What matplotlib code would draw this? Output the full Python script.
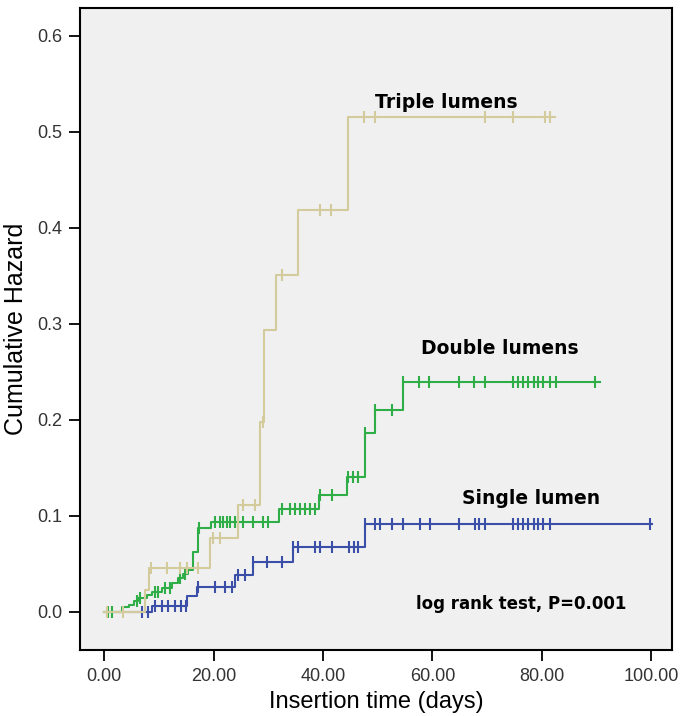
import matplotlib.pyplot as plt
import numpy as np

# event times (days) and cumulative hazard after each event
single_t = [8.7, 15.1, 17.0, 24.0, 27.3, 34.6, 47.7]
single_h = [0.006, 0.017, 0.026, 0.039, 0.052, 0.068, 0.092]
single_end = 100.2
single_cens = [7.0, 8.0, 9.3, 10.5, 11.7, 12.9, 14.0, 15.0, 17.2, 20.3, 22.1, 23.3,
               24.5, 25.7, 27.3, 29.7, 32.5, 34.6, 35.5, 38.6, 39.5, 41.6, 44.7,
               45.6, 46.5, 47.7, 49.5, 50.5, 52.6, 54.7, 57.8, 59.6, 64.8, 67.8,
               68.6, 69.7, 74.8, 75.7, 76.6, 77.5, 78.5, 79.4, 80.3, 81.5, 99.8]

double_t = [3.2, 4.5, 5.5, 6.2, 7.8, 8.7, 10.5, 12.4, 13.5, 14.5, 15.4, 16.3, 17.2,
            19.6, 32.0, 39.3, 44.4, 47.6, 49.5, 54.6]
double_h = [0.005, 0.007, 0.011, 0.015, 0.018, 0.021, 0.025, 0.030, 0.035, 0.040,
            0.044, 0.062, 0.087, 0.094, 0.107, 0.122, 0.141, 0.186, 0.210, 0.240]
double_end = 90.7
double_cens = [0.8, 1.5, 6.0, 6.6, 9.3, 9.9, 11.2, 12.0, 13.9, 14.8, 17.4,
               20.3, 21.2, 21.8, 22.4, 23.0, 23.9, 24.5, 25.4, 27.3, 29.1, 30.0,
               32.5, 34.0, 34.9, 35.8, 36.7, 37.7, 38.6, 39.5, 41.6, 44.6, 45.5,
               46.4, 47.6, 49.5, 52.6, 54.6, 57.6, 59.4, 64.8, 67.6, 69.7, 74.8,
               75.7, 76.6, 77.5, 78.5, 79.4, 80.3, 81.5, 82.6, 89.7]

triple_t = [7.5, 8.2, 19.4, 24.5, 28.5, 29.3, 31.4, 35.5, 44.5]
triple_h = [0.023, 0.046, 0.077, 0.111, 0.198, 0.294, 0.351, 0.419, 0.515]
triple_end = 82.4
triple_cens = [0.5, 3.5, 8.6, 11.5, 13.9, 15.1, 17.2, 19.9, 21.2, 25.4, 27.6,
               29.0, 32.5, 39.5, 41.5, 47.5, 49.5, 69.7, 74.7, 80.6, 81.5]

groups = [
    ("Single lumen", single_t, single_h, single_end, single_cens, "#3b4fa8"),
    ("Double lumens", double_t, double_h, double_end, double_cens, "#2fae48"),
    ("Triple lumens", triple_t, triple_h, triple_end, triple_cens, "#d3cb9c"),
]

plt.rcParams['font.family'] = ['Liberation Sans', 'DejaVu Sans']
fig = plt.figure(figsize=(6.85, 7.16), dpi=100)
ax = fig.add_axes([80 / 685, 1 - 650 / 716, 592 / 685, 642 / 716])
ax.set_facecolor("#f0f0f0")

for name, t, h, end, cens, col in groups:
    xs = np.r_[0.0, t, end]
    ys = np.r_[0.0, h, h[-1]]
    ax.step(xs, ys, where="post", color=col, lw=1.5)
    idx = np.searchsorted(np.r_[0.0, t], cens, side="right") - 1
    cy = np.r_[0.0, h][idx]
    ax.plot(cens, cy, ls="none", marker="|", ms=8, mew=1.5, color=col)

ax.set_xlim(-4.4, 103.8)
ax.set_ylim(-0.0396, 0.629)
ax.set_xticks(np.arange(0, 101, 20))
ax.set_xticklabels(["%.2f" % v for v in np.arange(0, 101, 20)])
ax.set_yticks(np.arange(0, 0.61, 0.1))
ax.set_yticklabels(["%.1f" % v for v in np.arange(0, 0.61, 0.1)])
ax.tick_params(direction="out", length=8, width=1.3, labelsize=13,
               labelcolor="#333333", pad=5)
for s in ax.spines.values():
    s.set_linewidth(1.5)

ax.set_xlabel("Insertion time (days)", fontsize=17)
ax.set_ylabel("Cumulative Hazard", fontsize=18)
ax.xaxis.set_label_coords(0.5, -0.0805)
ax.yaxis.set_label_coords(-0.108, 0.5)
ax.xaxis.label.set_va("center")
ax.yaxis.label.set_va("center")

txt = dict(fontsize=13.5, fontweight="bold", ha="center", va="center",
           family=["DejaVu Sans"])
ax.text(62.5, 0.531, "Triple lumens", **txt)
ax.text(72.4, 0.274, "Double lumens", **txt)
ax.text(78.0, 0.118, "Single lumen", **txt)
ax.text(76.2, 0.008, "log rank test, P=0.001", fontsize=12, fontweight="bold",
        ha="center", va="center", family=["DejaVu Sans"])

fig.savefig("out.png", dpi=100)
